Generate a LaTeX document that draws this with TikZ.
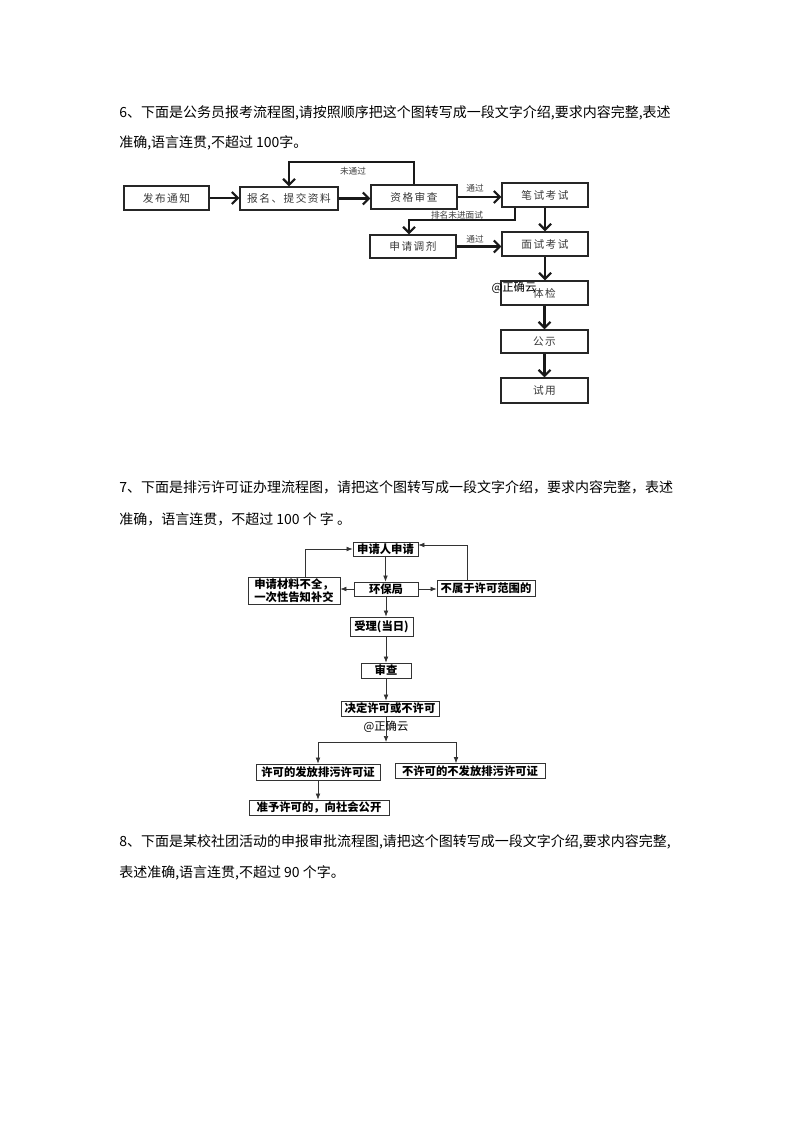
\documentclass[tikz,border=0pt]{standalone}
\usepackage{fontspec}
\setmainfont{Noto Sans CJK SC}
\newfontfamily\spaced[LetterSpace=14]{Noto Sans CJK SC}
\usetikzlibrary{arrows.meta}
\tikzset{
  q/.style={anchor=west, inner sep=0pt, font=\fontsize{10.5pt}{12pt}\selectfont},
  wh/.style 2 args={minimum width=#1*0.75pt, minimum height=#2*0.75pt},
  boxa/.style={draw=black!85, line width=1.1pt, inner sep=0pt, text=black!78, font=\spaced\fontsize{8pt}{9pt}\selectfont},
  arra/.style={line width=1.6pt, draw=black!90, -{Straight Barb[length=4.5pt,width=9pt]}},
  lbla/.style={inner sep=0pt, text=black!75, font=\fontsize{6.5pt}{7pt}\selectfont},
  boxb/.style={draw=black!80, line width=0.6pt, inner sep=0pt, font=\bfseries\fontsize{8.5pt}{10pt}\selectfont},
  arrb/.style={line width=0.5pt, draw=black!80, -{Latex[length=4.5pt,width=3.5pt]}},
  wm/.style={inner sep=0pt, font=\fontsize{8.5pt}{10pt}\selectfont}
}
\begin{document}
\begin{tikzpicture}[x=0.75pt,y=-0.75pt]
\useasboundingbox (0,0) rectangle (794,1123);
\fill[white] (0,0) rectangle (794,1123);

% Question 6
\node[q] (t6a) at (119,113) {6、下面是公务员报考流程图,请按照顺序把这个图转写成一段文字介绍,要求内容完整,表述};
\node[q] (t6b) at (119,143) {准确,语言连贯,不超过 100字。};

\node[boxa, wh={85}{24}] (n1) at (166.5,198) {发布通知};
\node[boxa, wh={98}{23}] (n2) at (289,198.5) {报名、提交资料};
\node[boxa, wh={86}{24}] (n3) at (414,197) {资格审查};
\node[boxa, wh={86}{24}] (n4) at (545,195) {笔试考试};
\node[boxa, wh={86}{23}] (n5) at (413,246.5) {申请调剂};
\node[boxa, wh={86}{24}] (n6) at (545,244) {面试考试};
\node[boxa, wh={87}{24}] (n7) at (544.5,293) {体检};
\node[boxa, wh={87}{23}] (n8) at (544.5,341.5) {公示};
\node[boxa, wh={87}{25}] (n9) at (544.5,390.5) {试用};

\draw[arra] (n1.east) -- (n1.east -| n2.west);
\draw[arra] (n2.east) -- (n2.east -| n3.west);
\draw[arra] (n3.east) -- (n3.east -| n4.west);
\coordinate (fb) at (350,162);
\draw[arra] (n3.north) |- (fb) -| (n2.north);
\node[lbla] (l1) at (353,171) {未通过};
\node[lbla] (l2) at (475,188) {通过};
\coordinate (k1) at (515,220);
\coordinate (k2) at (409,220);
\draw[arra] (k1 |- n4.south) -- (k1) -- (k2) -- (k2 |- n5.north);
\node[lbla] (l3) at (457,215) {排名未进面试};
\draw[arra] (n4.south) -- (n4.south |- n6.north);
\draw[arra] (n5.east) -- (n5.east -| n6.west);
\node[lbla] (l4) at (475,239) {通过};
\draw[arra] (n6.south) -- (n6.south |- n7.north);
\draw[arra] (n7.south) -- (n7.south |- n8.north);
\draw[arra] (n8.south) -- (n8.south |- n9.north);
\node[wm] (w1) at (514,288) {@正确云};

% Question 7
\node[q] (t7a) at (119,487) {7、下面是排污许可证办理流程图，请把这个图转写成一段文字介绍，要求内容完整，表述};
\node[q] (t7b) at (119,519) {准确，语言连贯，不超过 100 个 字 。};

\node[boxb, wh={65}{14}] (m1) at (385.5,549) {申请人申请};
\node[boxb, wh={64}{14}] (m2) at (386,589) {环保局};
\node[boxb, wh={92}{27}, align=left] (m3) at (294,590.5) {申请材料不全，\\一次性告知补交};
\node[boxb, wh={98}{16}] (m4) at (486,588) {不属于许可范围的};
\node[boxb, wh={63}{19}] (m5) at (381.5,626.5) {受理(当日)};
\node[boxb, wh={50}{15}] (m6) at (386,670.5) {审查};
\node[boxb, wh={98}{15}] (m7) at (390,708.5) {决定许可或不许可};
\node[boxb, wh={124}{16}] (m8) at (318,772) {许可的发放排污许可证};
\node[boxb, wh={150}{15}] (m9) at (470,771) {不许可的不发放排污许可证};
\node[boxb, wh={140}{15}] (m10) at (319,807.5) {准予许可的，向社会公开};

\draw[arrb] (m1.south) -- (m1.south |- m2.north);
\draw[arrb] (m2.west) -- (m2.west -| m3.east);
\draw[arrb] (m2.east) -- (m2.east -| m4.west);
\coordinate (cl) at (305,549);
\draw[arrb] (cl |- m3.north) |- (m1.west);
\coordinate (cr) at (467,545);
\draw[arrb] (cr |- m4.north) -- (cr) -- (cr -| m1.east);
\draw[arrb] (m2.south) -- (m2.south |- m5.north);
\draw[arrb] (m6.north |- m5.south) -- (m6.north);
\draw[arrb] (m6.south) -- (m6.south |- m7.north);
\coordinate (sp) at (386,742);
\coordinate (sq) at (456,742);
\draw[arrb] (sp |- m7.south) -- (sp);
\draw[arrb] (sp) -| (m8.north);
\draw[arrb] (sp) -- (sq) -- (sq |- m9.north);
\draw[arrb] (m8.south) -- (m8.south |- m10.north);
\node[wm] (w2) at (386,727) {@正确云};

% Question 8
\node[q] (t8a) at (119,842) {8、下面是某校社团活动的申报审批流程图,请把这个图转写成一段文字介绍,要求内容完整,};
\node[q] (t8b) at (119,873) {表述准确,语言连贯,不超过 90 个字。};
\end{tikzpicture}
\end{document}
